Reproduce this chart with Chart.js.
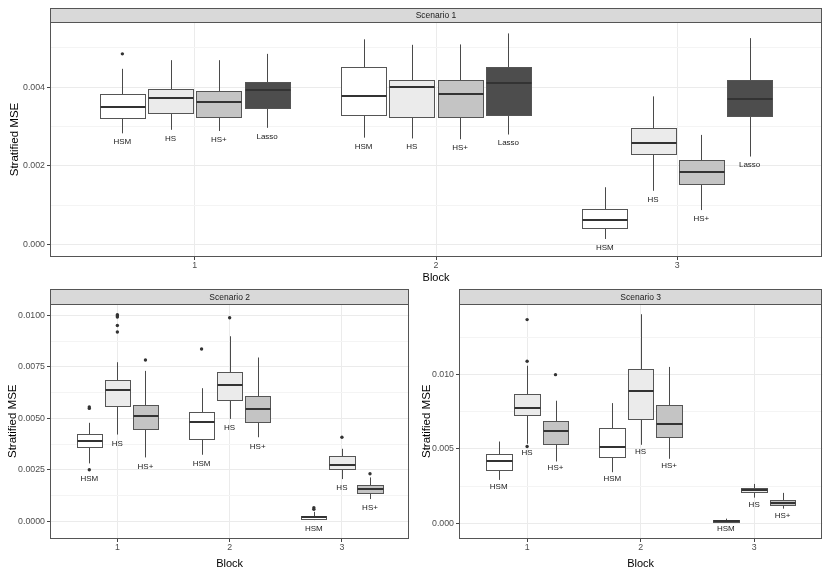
<!DOCTYPE html>
<html><head><meta charset="utf-8">
<script src="https://cdn.jsdelivr.net/npm/chart.js@4/dist/chart.umd.min.js"></script>
<style>
html,body{margin:0;padding:0;background:#fff;}
#wrap{position:relative;width:830px;height:571px;overflow:hidden;background:#fff;}
canvas{position:absolute;}
</style></head><body>
<div id="wrap">
<canvas id="c1" width="830" height="285" style="left:0;top:0;width:830px;height:285px"></canvas>
<canvas id="c2" width="415" height="291" style="left:0;top:280px;width:415px;height:291px"></canvas>
<canvas id="c3" width="415" height="291" style="left:415px;top:280px;width:415px;height:291px"></canvas>
</div>
<script>
// ---------- data ----------
const blockValues = [1, 2, 3];
const blockLabels = ["1", "2", "3"];
const methods1 = ["HSM", "HS", "HS+", "Lasso"];
const methods23 = ["HSM", "HS", "HS+"];

// Five-number summaries per block: [lower whisker, Q1, median, Q3, upper whisker]
// Scenario 1
const s1HSM   = [[0.00283, 0.00321, 0.00351, 0.00382, 0.00447], [0.00272, 0.00329, 0.00379, 0.00451, 0.00522], [0.000145, 0.00043, 0.00063, 0.00090, 0.00146]];
const s1HS    = [[0.00292, 0.00334, 0.00374, 0.00396, 0.00469], [0.00270, 0.00325, 0.00400, 0.00419, 0.00508], [0.00137, 0.00230, 0.00258, 0.00297, 0.00377]];
const s1HSp   = [[0.00289, 0.00325, 0.00362, 0.00390, 0.00469], [0.00268, 0.00325, 0.00384, 0.00419, 0.00509], [0.00088, 0.00154, 0.00185, 0.00215, 0.00279]];
const s1Lasso = [[0.00297, 0.00347, 0.00392, 0.00414, 0.00485], [0.00280, 0.00330, 0.00410, 0.00451, 0.00537], [0.00224, 0.00328, 0.00370, 0.00419, 0.00525]];
const s1HSMout   = [[0.00485], [], []];
const s1HSout    = [[], [], []];
const s1HSpout   = [[], [], []];
const s1Lassoout = [[], [], []];

// Scenario 2
const s2HSM = [[0.00281, 0.00363, 0.00392, 0.00424, 0.00478], [0.00323, 0.00400, 0.00480, 0.00531, 0.00646], [0.00006, 0.00010, 0.00019, 0.00027, 0.00046]];
const s2HS  = [[0.00421, 0.00562, 0.00636, 0.00688, 0.00772], [0.00497, 0.00588, 0.00660, 0.00727, 0.00898], [0.00205, 0.00253, 0.00271, 0.00315, 0.00352]];
const s2HSp = [[0.00310, 0.00447, 0.00509, 0.00565, 0.00730], [0.00408, 0.00480, 0.00546, 0.00610, 0.00795], [0.00108, 0.00139, 0.00158, 0.00176, 0.00213]];
const s2HSMout = [[0.00555, 0.00548, 0.00250], [0.00836], [0.00058, 0.00066]];
const s2HSout  = [[0.01003, 0.00996, 0.00991, 0.00950, 0.00919], [0.00988], [0.00408]];
const s2HSpout = [[0.00783], [], [0.00231]];

// Scenario 3
const s3HSM = [[0.00291, 0.00359, 0.00421, 0.00464, 0.00549], [0.00343, 0.00448, 0.00511, 0.00637, 0.00807], [0.00009, 0.00011, 0.00015, 0.00022, 0.00031]];
const s3HS  = [[0.00534, 0.00727, 0.00771, 0.00865, 0.01058], [0.00527, 0.00702, 0.00886, 0.01034, 0.01404], [0.00172, 0.00211, 0.00226, 0.00240, 0.00264]];
const s3HSp = [[0.00415, 0.00534, 0.00623, 0.00684, 0.00823], [0.00433, 0.00581, 0.00668, 0.00794, 0.01050], [0.00098, 0.00121, 0.00139, 0.00155, 0.00204]];
const s3HSMout = [[], [], []];
const s3HSout  = [[0.01368, 0.01088, 0.00516], [], []];
const s3HSpout = [[0.00998], [], []];

// Y tick values / labels
const s1Ticks = [0, 0.002, 0.004];
const s1TickLabels = ["0.000", "0.002", "0.004"];
const s1Minor = [0.001, 0.003, 0.005];
const s2Ticks = [0, 0.0025, 0.005, 0.0075, 0.01];
const s2TickLabels = ["0.0000", "0.0025", "0.0050", "0.0075", "0.0100"];
const s2Minor = [0.00125, 0.00375, 0.00625, 0.00875];
const s3Ticks = [0, 0.005, 0.01];
const s3TickLabels = ["0.000", "0.005", "0.010"];
const s3Minor = [0.0025, 0.0075, 0.0125];

// ---------- style ----------
const FONT = "'Liberation Sans', Arial, Helvetica, sans-serif";
Chart.defaults.font.family = FONT;
const fillColors = { "HSM": "#ffffff", "HS": "#ebebeb", "HS+": "#c4c4c4", "Lasso": "#4d4d4d" };

function makePanel(id, P) {
  const n = P.methods.length;
  const offs = P.methods.map((m, i) => (i - (n - 1) / 2) * P.slot);
  const scatterData = [];
  P.methods.forEach((m, i) => {
    P.outliers[i].forEach((arr, b) => arr.forEach(v => scatterData.push({ x: blockValues[b] + offs[i], y: v })));
  });
  const allTicks = P.ticks.concat(P.minor).sort((a, b) => a - b);
  const isMajor = v => P.ticks.includes(v);

  const plugin = {
    id: 'panel_' + id,
    beforeDatasetsDraw(chart) {
      const { ctx, scales: { x, y } } = chart;
      ctx.save();
      P.methods.forEach((m, i) => {
        P.stats[i].forEach((s, b) => {
          const cx = blockValues[b] + offs[i];
          const xl = Math.round(x.getPixelForValue(cx - P.boxWidth / 2)) + 0.5;
          const xr = Math.round(x.getPixelForValue(cx + P.boxWidth / 2)) + 0.5;
          const xc = Math.round(x.getPixelForValue(cx)) + 0.5;
          const yLo = y.getPixelForValue(s[0]);
          const yQ1 = Math.round(y.getPixelForValue(s[1])) + 0.5;
          const yMed = Math.round(y.getPixelForValue(s[2]));
          const yQ3 = Math.round(y.getPixelForValue(s[3])) + 0.5;
          const yHi = y.getPixelForValue(s[4]);
          ctx.lineWidth = 1;
          ctx.strokeStyle = '#4a4a4a';
          ctx.beginPath();
          ctx.moveTo(xc, yHi); ctx.lineTo(xc, yQ3);
          ctx.moveTo(xc, yQ1); ctx.lineTo(xc, yLo);
          ctx.stroke();
          ctx.fillStyle = fillColors[m];
          ctx.fillRect(xl, yQ3, xr - xl, yQ1 - yQ3);
          ctx.strokeStyle = '#555555';
          ctx.strokeRect(xl, yQ3, xr - xl, yQ1 - yQ3);
          ctx.lineWidth = 2;
          ctx.strokeStyle = '#333333';
          ctx.beginPath();
          ctx.moveTo(xl, yMed); ctx.lineTo(xr, yMed);
          ctx.stroke();
          const minV = Math.min(s[0], ...P.outliers[i][b]);
          ctx.fillStyle = '#1a1a1a';
          ctx.font = '8px ' + FONT;
          ctx.textAlign = 'center';
          ctx.textBaseline = 'middle';
          ctx.fillText(m, x.getPixelForValue(cx), y.getPixelForValue(minV - P.labelOffset));
        });
      });
      ctx.restore();
    },
    afterDraw(chart) {
      const { ctx, chartArea: a } = chart;
      ctx.save();
      ctx.lineWidth = 1;
      ctx.strokeStyle = '#555555';
      const L = Math.round(a.left) + 0.5, R = Math.round(a.right) - 0.5;
      const T = Math.round(a.top) + 0.5, B = Math.round(a.bottom) - 0.5;
      ctx.strokeRect(L, T, R - L, B - T);
      // strip
      const sTop = Math.round(a.top - P.stripH) + 0.5;
      ctx.fillStyle = '#d9d9d9';
      ctx.fillRect(L, sTop, R - L, T - sTop);
      ctx.strokeStyle = '#555555';
      ctx.strokeRect(L, sTop, R - L, T - sTop);
      ctx.fillStyle = '#1a1a1a';
      ctx.font = '8.5px ' + FONT;
      ctx.textAlign = 'center';
      ctx.textBaseline = 'middle';
      ctx.fillText(P.title, (a.left + a.right) / 2, (sTop + T) / 2 + 0.5);
      ctx.restore();
    }
  };

  new Chart(document.getElementById(id), {
    type: 'scatter',
    data: { datasets: [{ data: scatterData, pointRadius: 1.7, pointBorderWidth: 0, pointBackgroundColor: '#333333', pointBorderColor: '#333333' }] },
    options: {
      responsive: false, animation: false, devicePixelRatio: 1, events: [],
      layout: { padding: { left: 0, top: P.padTop, right: P.padRight, bottom: 0 } },
      plugins: { legend: { display: false }, tooltip: { enabled: false } },
      scales: {
        x: {
          type: 'linear', min: 0.4, max: 3.6, bounds: 'data',
          afterBuildTicks: s => { s.ticks = blockValues.map(v => ({ value: v })); },
          afterFit: s => { s.height = P.xHeight; },
          ticks: { callback: (v, i) => blockLabels[i], color: '#4d4d4d', font: { size: 8.8 }, padding: 0, maxRotation: 0, autoSkip: false },
          grid: { color: '#ebebeb', lineWidth: 1, tickLength: 3, tickColor: '#444444', drawTicks: true },
          border: { display: false },
          title: { display: true, text: 'Block', color: '#000000', font: { size: 11 }, padding: { top: P.xTitlePad, bottom: 0 } }
        },
        y: {
          type: 'linear', min: P.yMin, max: P.yMax, bounds: 'data',
          afterBuildTicks: s => { s.ticks = allTicks.map(v => ({ value: v })); },
          afterFit: s => { s.width = P.yWidth; },
          ticks: {
            callback: v => { const k = P.ticks.indexOf(v); return k >= 0 ? P.tickLabels[k] : ''; },
            color: '#4d4d4d', font: { size: 8.8 }, padding: 2, autoSkip: false
          },
          grid: {
            color: c => (c.tick && !isMajor(c.tick.value)) ? '#f4f4f4' : '#ebebeb',
            tickColor: c => (c.tick && !isMajor(c.tick.value)) ? 'rgba(0,0,0,0)' : '#444444',
            lineWidth: 1, tickLength: 3
          },
          border: { display: false },
          title: { display: true, text: 'Stratified MSE', color: '#000000', font: { size: 11.5 }, padding: { top: P.yTitlePad, bottom: 0 } }
        }
      }
    },
    plugins: [plugin]
  });
}

makePanel('c1', {
  title: 'Scenario 1', methods: methods1,
  stats: [s1HSM, s1HS, s1HSp, s1Lasso], outliers: [s1HSMout, s1HSout, s1HSpout, s1Lassoout],
  ticks: s1Ticks, tickLabels: s1TickLabels, minor: s1Minor,
  yMin: -0.000313, yMax: 0.00566,
  slot: 0.2, boxWidth: 0.187, labelOffset: 0.00022,
  padTop: 22, padRight: 8, yWidth: 50, xHeight: 28, xTitlePad: 2.4, yTitlePad: 8.1, stripH: 14
});
makePanel('c2', {
  title: 'Scenario 2', methods: methods23,
  stats: [s2HSM, s2HS, s2HSp], outliers: [s2HSMout, s2HSout, s2HSpout],
  ticks: s2Ticks, tickLabels: s2TickLabels, minor: s2Minor,
  yMin: -0.000858, yMax: 0.01057,
  slot: 0.25, boxWidth: 0.225, labelOffset: 0.00044,
  padTop: 23.5, padRight: 5.7, yWidth: 50, xHeight: 32, xTitlePad: 7.7, yTitlePad: 5.6, stripH: 14.5
});
makePanel('c3', {
  title: 'Scenario 3', methods: methods23,
  stats: [s3HSM, s3HS, s3HSp], outliers: [s3HSMout, s3HSout, s3HSpout],
  ticks: s3Ticks, tickLabels: s3TickLabels, minor: s3Minor,
  yMin: -0.001057, yMax: 0.01476,
  slot: 0.25, boxWidth: 0.225, labelOffset: 0.00045,
  padTop: 23.5, padRight: 7.7, yWidth: 44, xHeight: 32, xTitlePad: 7.7, yTitlePad: 5.1, stripH: 14.5
});
</script>
</body></html>
